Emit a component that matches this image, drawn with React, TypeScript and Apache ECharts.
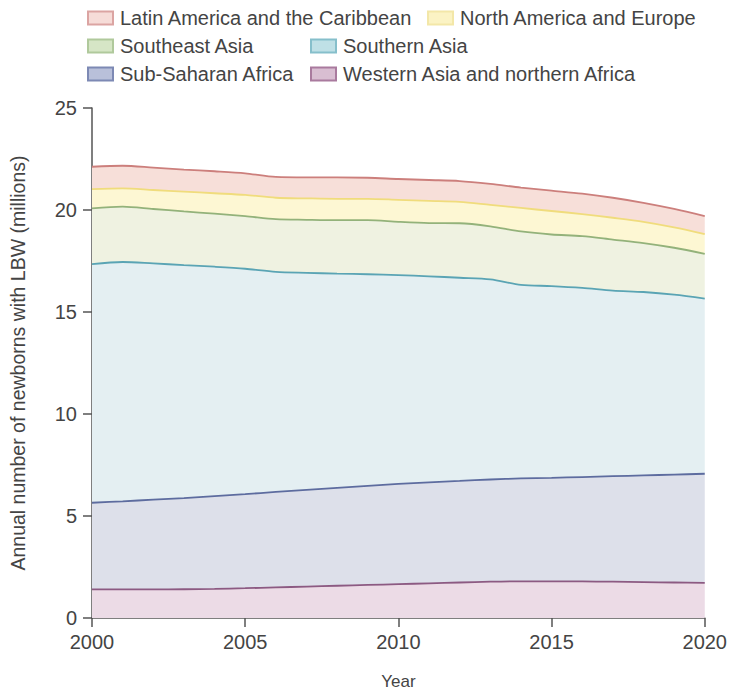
import React, { useEffect, useRef } from "react";
import * as echarts from "echarts";

const years = [
  "2000", "2001", "2002", "2003", "2004", "2005", "2006", "2007", "2008", "2009", "2010",
  "2011", "2012", "2013", "2014", "2015", "2016", "2017", "2018", "2019", "2020",
];

const westernAsia = [1.40, 1.40, 1.40, 1.41, 1.43, 1.46, 1.50, 1.54, 1.58, 1.62, 1.66, 1.70, 1.74, 1.78, 1.80, 1.80, 1.80, 1.78, 1.76, 1.74, 1.72];
const subSaharan = [4.25, 4.32, 4.40, 4.47, 4.54, 4.61, 4.68, 4.74, 4.80, 4.86, 4.91, 4.95, 4.98, 5.01, 5.04, 5.07, 5.11, 5.17, 5.23, 5.29, 5.35];
const southernAsia = [11.70, 11.73, 11.58, 11.42, 11.25, 11.05, 10.79, 10.64, 10.50, 10.37, 10.24, 10.10, 9.96, 9.81, 9.49, 9.40, 9.27, 9.10, 8.99, 8.82, 8.59];
const southeastAsia = [2.73, 2.72, 2.67, 2.63, 2.60, 2.58, 2.58, 2.60, 2.62, 2.65, 2.61, 2.61, 2.67, 2.60, 2.62, 2.53, 2.54, 2.50, 2.40, 2.30, 2.19];
const northAmEurope = [0.94, 0.89, 0.93, 0.97, 1.00, 1.04, 1.05, 1.05, 1.05, 1.05, 1.08, 1.09, 1.05, 1.05, 1.15, 1.15, 1.08, 1.07, 1.04, 1.00, 0.97];
const latinAmerica = [1.10, 1.11, 1.10, 1.08, 1.08, 1.06, 1.02, 1.03, 1.05, 1.03, 1.02, 1.02, 1.02, 1.03, 1.00, 1.00, 1.00, 0.98, 0.93, 0.90, 0.88];

const regionNames = [
  "Western Asia and northern Africa",
  "Sub-Saharan Africa",
  "Southern Asia",
  "Southeast Asia",
  "North America and Europe",
  "Latin America and the Caribbean",
];
const regionValues = [westernAsia, subSaharan, southernAsia, southeastAsia, northAmEurope, latinAmerica];
const lineColors = ["#8c5a82", "#5d6c9f", "#5aa4b4", "#93b27a", "#f0dc7c", "#cc7f7c"];
const fillColors = ["#ecdbe6", "#dde0ea", "#e4eff2", "#eff2e1", "#fdf7d3", "#f7dfd9"];
const iconBorders = ["#a97a9e", "#7d89b4", "#86bfcb", "#b0c99c", "#f3e7a8", "#dba4a2"];
const iconFills = ["#d9bed2", "#b9c0da", "#bfe0e6", "#d6e6c6", "#fbf3c4", "#f6dcd8"];

const legendLayout = [
  { idx: 5, left: 87, top: 8 },
  { idx: 4, left: 427, top: 8 },
  { idx: 3, left: 87, top: 36 },
  { idx: 2, left: 310, top: 36 },
  { idx: 1, left: 87, top: 64 },
  { idx: 0, left: 310, top: 64 },
];

const FONT = "'Liberation Sans', Arial, sans-serif";

export default function App() {
  const ref = useRef<HTMLDivElement>(null);
  useEffect(() => {
    if (!ref.current) return;
    const chart = echarts.init(ref.current, undefined, { renderer: "svg" });
    chart.setOption({
      animation: false,
      backgroundColor: "#ffffff",
      textStyle: { fontFamily: FONT },
      legend: legendLayout.map((l) => ({
        left: l.left,
        top: l.top,
        padding: 0,
        itemWidth: 25,
        itemHeight: 13,
        itemGap: 7,
        selectedMode: false,
        textStyle: { fontSize: 20, lineHeight: 20, color: "#444", fontFamily: FONT, padding: [0, 0, 0, 2] },
        data: [
          {
            name: regionNames[l.idx],
            icon: "rect",
            itemStyle: {
              color: iconFills[l.idx],
              borderColor: iconBorders[l.idx],
              borderWidth: 2,
            },
          },
        ],
      })),
      grid: { left: 87, right: 23, top: 108, bottom: 70, containLabel: false },
      xAxis: {
        type: "category",
        data: years,
        boundaryGap: false,
        name: "Year",
        nameLocation: "middle",
        nameGap: 55,
        nameTextStyle: { fontSize: 17, color: "#444", fontFamily: FONT },
        axisLine: { lineStyle: { color: "#555", width: 1.5 } },
        axisTick: { interval: 4, length: 9, lineStyle: { color: "#555", width: 1.5 } },
        axisLabel: { interval: 4, fontSize: 20, color: "#444", margin: 14, fontFamily: FONT },
        splitLine: { show: false },
      },
      yAxis: {
        type: "value",
        min: 0,
        max: 25,
        interval: 5,
        name: "Annual number of newborns with LBW (millions)",
        nameLocation: "middle",
        nameGap: 64,
        nameTextStyle: { fontSize: 19.5, color: "#444", fontFamily: FONT },
        axisLine: { show: true, lineStyle: { color: "#555", width: 1.5 } },
        axisTick: { show: true, length: 9, lineStyle: { color: "#555", width: 1.5 } },
        axisLabel: { fontSize: 20, color: "#444", margin: 15, fontFamily: FONT },
        splitLine: { show: false },
      },
      series: regionNames.map((name, i) => ({
        name,
        type: "line",
        stack: "total",
        data: regionValues[i],
        smooth: 0.3,
        symbol: "none",
        lineStyle: { color: lineColors[i], width: 1.8 },
        itemStyle: { color: lineColors[i] },
        areaStyle: { color: fillColors[i], opacity: 1 },
        z: 2,
      })),
    });
    return () => chart.dispose();
  }, []);
  return <div ref={ref} style={{ width: 730, height: 695, position: "absolute", left: 0, top: 0 }} />;
}
